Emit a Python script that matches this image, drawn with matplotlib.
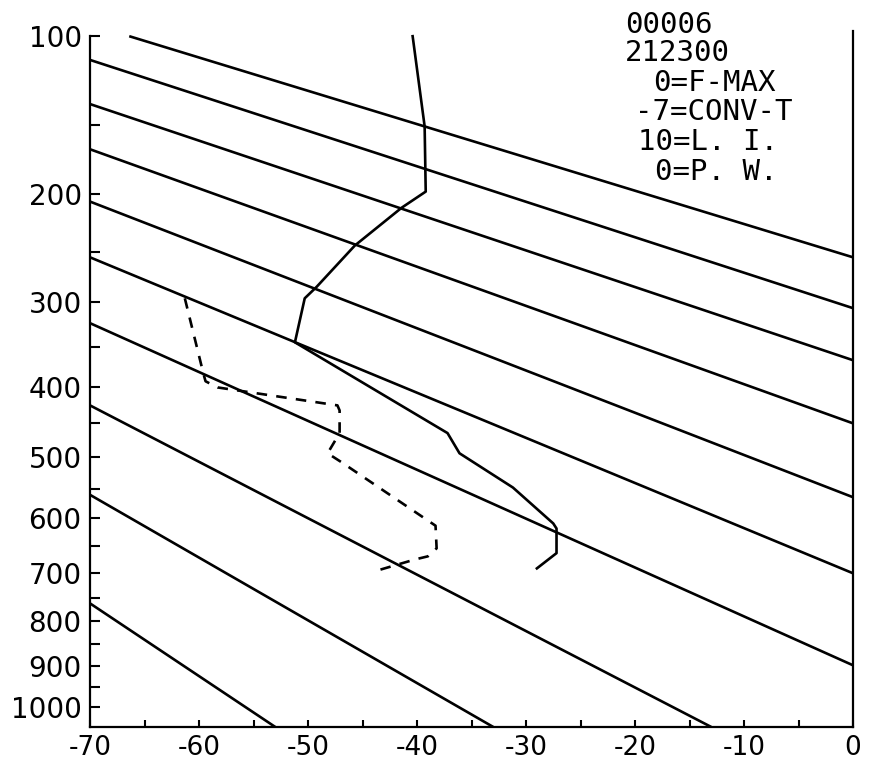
import numpy as np
import matplotlib
matplotlib.use("Agg")
import matplotlib.pyplot as plt

# Stuve-type diagram: y axis is p ** kappa
KAPPA = 0.286

# dry adiabats, read as start / end points (deg C, hPa)
adiabat_t0 = [-66.4, -70, -70, -70, -70, -70, -70, -70, -70, -70]
adiabat_p0 = [100, 112, 137, 166.5, 206, 255, 323, 425, 560, 762]
adiabat_t1 = [0, 0, 0, 0, 0, 0, 0, -13.0, -33.0, -53.0]
adiabat_p1 = [255, 306.5, 366.5, 450, 564, 701.5, 898, 1050, 1050, 1050]

# temperature sounding (solid)
temp_p = [100, 151, 198, 211, 244, 284, 296, 345, 464, 494, 548, 609, 618, 663, 692]
temp_t = [-40.4, -39.3, -39.2, -41.4, -45.7, -49.2, -50.3, -51.2, -37.2, -36.1,
          -31.2, -27.5, -27.2, -27.2, -29.0]

# dew point sounding (dashed)
dew_p = [296, 383, 393, 401, 425, 432, 464, 494, 508, 613, 654, 669, 675, 699]
dew_t = [-61.3, -59.6, -59.4, -58.3, -47.3, -47.1, -47.1, -48.2, -46.9, -38.3,
         -38.2, -39.0, -40.2, -44.1]

info_lines = ["00006", "212300", "0=F-MAX", "-7=CONV-T", "10=L. I.", "0=P. W."]
info_x = [625, 625, 653, 635, 638, 655]
info_y = [25, 53, 83, 112, 142, 172]

p_ticks = list(range(100, 1001, 100))
t_ticks = list(range(-70, 1, 10))


def fwd(p):
    p = np.asarray(p, dtype=float)
    return np.sign(p) * np.abs(p) ** KAPPA


def inv(y):
    y = np.asarray(y, dtype=float)
    return np.sign(y) * np.abs(y) ** (1.0 / KAPPA)


W, H = 869, 762
fig = plt.figure(figsize=(W / 100, H / 100), dpi=100)
ax = fig.add_axes([90 / W, 1 - 727 / H, 763 / W, 696 / H])
ax.set_yscale("function", functions=(fwd, inv))
ax.set_xlim(-70, 0)
ax.set_ylim(1050, 97.5)

# adiabats: straight lines on the diagram
for t0, p0, t1, p1 in zip(adiabat_t0, adiabat_p0, adiabat_t1, adiabat_p1):
    ax.plot([t0, t1], [p0, p1], color="black", lw=1.9, solid_capstyle="butt")

ax.plot(temp_t, temp_p, color="black", lw=1.9)
ax.plot(dew_t, dew_p, color="black", lw=1.9, dashes=(4, 3.5))

ax.set_yticks(p_ticks)
ax.set_yticklabels([str(v) for v in p_ticks])
ax.set_yticks(np.arange(150, 1000, 100), minor=True)
ax.set_xticks(t_ticks)
ax.set_xticklabels([str(v) for v in t_ticks])
ax.set_xticks(np.arange(-65, 0, 10), minor=True)
ax.yaxis.set_minor_formatter(plt.NullFormatter())

ax.tick_params(axis="both", which="both", direction="in", width=1.5,
               colors="black")
ax.tick_params(axis="y", which="both", length=7, pad=6, labelsize=20)
ax.tick_params(axis="x", which="both", length=5, pad=6, labelsize=19)
ax.spines["top"].set_visible(False)
ax.spines["left"].set_bounds(1050, 100)
for s in ["left", "right", "bottom"]:
    ax.spines[s].set_linewidth(1.6)

for s, x, y in zip(info_lines, info_x, info_y):
    fig.text(x / W, 1 - y / H, s, family="DejaVu Sans Mono", fontsize=21,
             ha="left", va="center")

fig.savefig("out.png", dpi=100, facecolor="white")
